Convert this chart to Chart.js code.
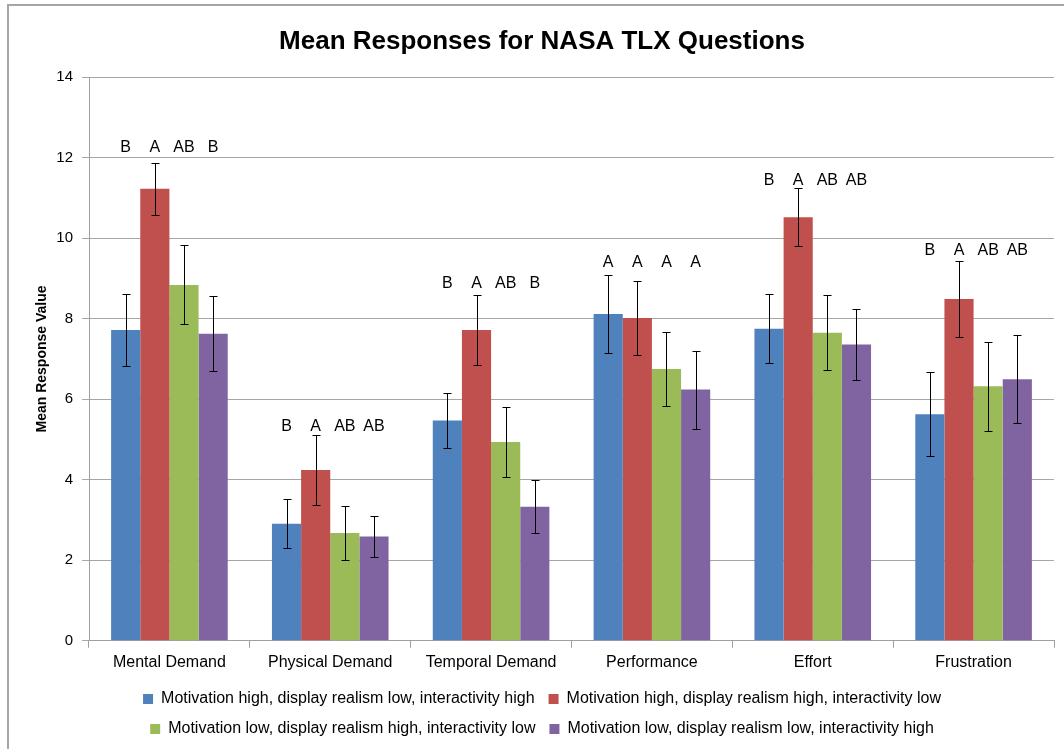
<!DOCTYPE html>
<html>
<head>
<meta charset="utf-8">
<script src="https://cdn.jsdelivr.net/npm/chart.js@4"></script>
<style>
  html, body { margin: 0; padding: 0; background: #fff; overflow: hidden; }
  #wrap { position: relative; width: 1064px; height: 749px; }
  #frame { position: absolute; left: 7px; top: 4px; width: 1100px; height: 800px; border: 2px solid #a6a6a6; pointer-events: none; }
  canvas { position: absolute; left: 0; top: 0; }
</style>
</head>
<body>
<div id="wrap">
  <canvas id="c" width="1064" height="749"></canvas>
  <div id="frame"></div>
</div>
<script>
const categories = ['Mental Demand', 'Physical Demand', 'Temporal Demand', 'Performance', 'Effort', 'Frustration'];
const seriesNames = [
  'Motivation high, display realism low, interactivity high',
  'Motivation high, display realism high, interactivity low',
  'Motivation low, display realism high, interactivity low',
  'Motivation low, display realism low, interactivity high'
];
const blueValues   = [7.72, 2.91, 5.47, 8.12, 7.75, 5.63];
const blueErrors   = [0.90, 0.60, 0.68, 0.97, 0.86, 1.04];
const redValues    = [11.23, 4.24, 7.72, 8.02, 10.52, 8.49];
const redErrors    = [0.65, 0.87, 0.88, 0.91, 0.72, 0.94];
const greenValues  = [8.84, 2.68, 4.94, 6.75, 7.65, 6.32];
const greenErrors  = [0.98, 0.68, 0.86, 0.91, 0.93, 1.11];
const purpleValues = [7.63, 2.59, 3.33, 6.24, 7.36, 6.50];
const purpleErrors = [0.93, 0.51, 0.66, 0.97, 0.88, 1.09];
const blueLetters   = ['B', 'B', 'B', 'A', 'B', 'B'];
const redLetters    = ['A', 'A', 'A', 'A', 'A', 'A'];
const greenLetters  = ['AB', 'AB', 'AB', 'A', 'AB', 'AB'];
const purpleLetters = ['B', 'AB', 'B', 'A', 'AB', 'AB'];
const letterLevels  = [12.25, 5.32, 8.87, 9.39, 11.43, 9.69];
const yTicks = [0, 2, 4, 6, 8, 10, 12, 14];

const colors = ['#4F81BD', '#C0504D', '#9BBB59', '#8064A2'];
const allValues = [blueValues, redValues, greenValues, purpleValues];
const allErrors = [blueErrors, redErrors, greenErrors, purpleErrors];
const allLetters = [blueLetters, redLetters, greenLetters, purpleLetters];

const FONT = '"Liberation Sans Narrow", "Liberation Sans", Arial, sans-serif';

const errorBarPlugin = {
  id: 'errorBars',
  afterDatasetsDraw(chart) {
    const ctx = chart.ctx;
    const y = chart.scales.y;
    ctx.save();
    ctx.strokeStyle = '#000';
    ctx.lineWidth = 1;
    chart.data.datasets.forEach((ds, di) => {
      const meta = chart.getDatasetMeta(di);
      meta.data.forEach((bar, i) => {
        const v = ds.data[i], e = allErrors[di][i];
        const x = Math.round(bar.x) + 0.5;
        const yt = Math.round(y.getPixelForValue(v + e)) + 0.5;
        const yb = Math.round(y.getPixelForValue(v - e)) + 0.5;
        ctx.beginPath();
        ctx.moveTo(x, yt); ctx.lineTo(x, yb);
        ctx.moveTo(x - 4, yt); ctx.lineTo(x + 4, yt);
        ctx.moveTo(x - 4, yb); ctx.lineTo(x + 4, yb);
        ctx.stroke();
      });
    });
    ctx.restore();
  }
};

const letterPlugin = {
  id: 'letters',
  afterDatasetsDraw(chart) {
    const ctx = chart.ctx;
    const y = chart.scales.y;
    ctx.save();
    ctx.fillStyle = '#000';
    ctx.font = '16px ' + FONT;
    ctx.textAlign = 'center';
    ctx.textBaseline = 'middle';
    chart.data.datasets.forEach((ds, di) => {
      const meta = chart.getDatasetMeta(di);
      meta.data.forEach((bar, i) => {
        ctx.fillText(allLetters[di][i], bar.x, y.getPixelForValue(letterLevels[i]));
      });
    });
    ctx.restore();
  }
};

new Chart(document.getElementById('c'), {
  type: 'bar',
  data: {
    labels: categories,
    datasets: allValues.map((vals, i) => ({
      label: seriesNames[i],
      data: vals,
      backgroundColor: colors[i],
      borderWidth: 0,
      categoryPercentage: 0.725,
      barPercentage: 1.0
    }))
  },
  options: {
    responsive: false,
    animation: false,
    devicePixelRatio: 1,
    layout: { padding: { left: 30, right: 10, top: 0, bottom: 2 } },
    plugins: {
      title: {
        display: true,
        text: 'Mean Responses for NASA TLX Questions',
        color: '#000',
        font: { family: '"Liberation Sans", Arial, sans-serif', size: 26, weight: 'bold' },
        padding: { top: 26, bottom: 20 }
      },
      legend: {
        position: 'bottom',
        labels: {
          color: '#000',
          font: { family: FONT, size: 16 },
          boxWidth: 10,
          boxHeight: 10,
          padding: 14
        }
      },
      tooltip: { enabled: false }
    },
    scales: {
      x: {
        grid: { display: true, drawOnChartArea: false, offset: true, tickLength: 7, color: '#a0a0a0' },
        border: { color: '#a0a0a0' },
        ticks: { color: '#000', font: { family: FONT, size: 16 }, padding: 5, maxRotation: 0 }
      },
      y: {
        min: 0, max: 14,
        afterBuildTicks(scale) { scale.ticks = yTicks.map(v => ({ value: v })); },
        afterFit(scale) { scale.width = 59; },
        grid: { color: '#a6a6a6', tickLength: 7 },
        border: { color: '#a0a0a0' },
        ticks: { color: '#000', font: { family: '"Liberation Sans", Arial, sans-serif', size: 15 }, padding: 9 },
        title: {
          display: true,
          text: 'Mean Response Value',
          color: '#000',
          font: { family: '"Liberation Sans", Arial, sans-serif', size: 14, weight: 'bold' },
          padding: { top: 4, bottom: 0 }
        }
      }
    }
  },
  plugins: [errorBarPlugin, letterPlugin]
});
</script>
</body>
</html>
